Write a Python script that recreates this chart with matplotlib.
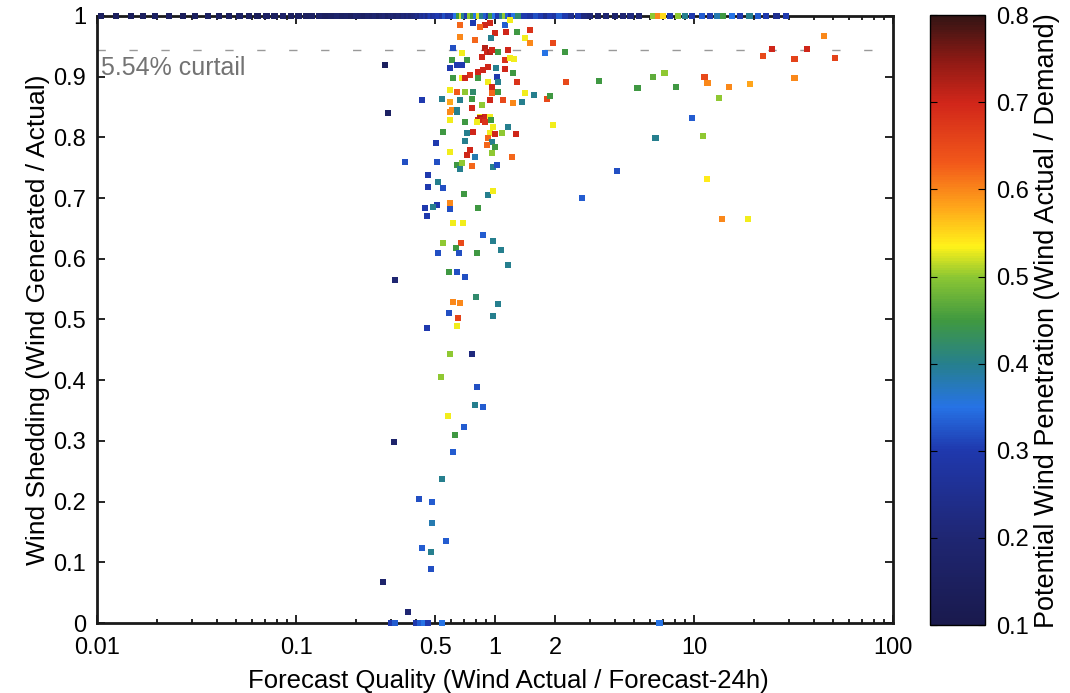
import numpy as np
import matplotlib
matplotlib.use("Agg")
import matplotlib.pyplot as plt
from matplotlib.colors import LinearSegmentedColormap

plt.rcParams['font.family'] = ['Liberation Sans', 'DejaVu Sans']

# ---------------- data ----------------
# points on the upper bound (no shedding, y = 1)
top_x = [0.0105, 0.0125, 0.0148, 0.017, 0.0195, 0.023, 0.027, 0.031, 0.036, 0.041,
         0.046, 0.052, 0.058, 0.064, 0.071, 0.078, 0.086, 0.094, 0.103, 0.112,
         0.12, 0.13, 0.14, 0.15, 0.16, 0.17, 0.18, 0.19, 0.2, 0.21,
         0.22, 0.23, 0.24, 0.25, 0.26, 0.27, 0.28, 0.29, 0.3, 0.31,
         0.32, 0.33, 0.34, 0.35, 0.36, 0.37, 0.38, 0.39, 0.40,
         0.41, 0.42, 0.43, 0.44, 0.45, 0.46, 0.47, 0.48, 0.49, 0.5, 0.52, 0.54, 0.56, 0.58, 0.6,
         0.62, 0.64, 0.66, 0.68, 0.7, 0.72, 0.75, 0.78, 0.8, 0.83, 0.86, 0.9, 0.93, 0.96,
         1.0, 1.04, 1.08, 1.12, 1.16, 1.2, 1.25, 1.3,
         1.4, 1.5, 1.6, 1.7, 1.8, 1.9, 2.0, 2.1, 2.25, 2.4, 2.6, 2.8,
         3.0, 3.3, 3.6, 4.0, 4.4, 4.8, 5.3,
         6.2, 6.6, 7.0, 7.6, 8.3, 9.0, 9.8, 11, 12, 13, 14, 15.5, 17, 19, 21, 23, 26, 29]
top_c = [0.15, 0.15, 0.14, 0.15, 0.16, 0.15, 0.14, 0.15, 0.16, 0.15,
         0.15, 0.16, 0.15, 0.14, 0.16, 0.15, 0.17, 0.15, 0.16, 0.15,
         0.16, 0.17, 0.15, 0.16, 0.18, 0.16, 0.17, 0.15, 0.18, 0.17,
         0.16, 0.18, 0.17, 0.19, 0.16, 0.18, 0.2, 0.17, 0.19, 0.2,
         0.18, 0.2, 0.19, 0.21, 0.2, 0.22, 0.2, 0.21, 0.22,
         0.24, 0.22, 0.26, 0.25, 0.28, 0.24, 0.27, 0.3, 0.26, 0.28, 0.3, 0.27, 0.32, 0.29, 0.3,
         0.3, 0.35, 0.45, 0.52, 0.4, 0.3, 0.5, 0.45, 0.35, 0.52, 0.4, 0.33, 0.3, 0.45,
         0.35, 0.3, 0.4, 0.5, 0.33, 0.3, 0.35, 0.42,
         0.3, 0.28, 0.32, 0.3, 0.25, 0.3, 0.28, 0.33, 0.3, 0.25, 0.3, 0.22,
         0.2, 0.18, 0.2, 0.18, 0.2, 0.22, 0.2,
         0.5, 0.6, 0.55, 0.3, 0.5, 0.4, 0.3, 0.33, 0.3, 0.38, 0.45, 0.35, 0.3, 0.4, 0.33, 0.3, 0.25, 0.3]

# points with shedding (y < 1)
pts_x = [
    # dense core around 0.5-2
    0.667, 0.775, 0.891, 0.841, 0.944, 1.123, 1.189, 1.29, 1.136, 1.0, 1.50, 1.415,
    0.667, 0.793, 0.955, 1.96, 0.615, 0.891, 0.912, 0.861, 0.944, 0.966, 1.035, 0.683,
    0.723, 1.162, 1.78, 2.25, 0.608, 0.644, 0.594, 0.683, 0.749, 0.822, 0.871, 0.922,
    1.012, 1.123, 1.189, 1.245, 1.123, 1.231, 0.615, 0.683, 0.707, 0.822, 0.922, 1.023,
    1.035, 0.966, 1.29, 2.27, 0.594, 0.644, 0.707, 0.775, 0.966, 1.035, 1.415, 1.57,
    1.82, 1.89, 0.43, 0.542, 0.594, 0.667, 0.766, 0.861, 0.944, 1.097, 1.231, 1.367,
    0.608, 0.644, 0.766, 0.841, 0.891, 0.944,
    # second red cluster near 0.83
    0.594, 0.644, 0.822, 0.841, 0.861, 0.891, 0.812, 0.955, 0.977, 1.162, 1.96, 0.594,
    0.707, 0.548, 0.723, 0.775, 0.944, 1.0, 1.084, 1.275, 0.505, 0.707, 0.922, 0.966,
    0.912, 1.0, 0.594, 0.749, 0.723, 0.793, 0.966, 1.217, 0.511, 0.644, 0.683, 0.667,
    0.766, 0.977, 1.023, 0.46, 0.517, 0.46, 0.548, 0.699, 0.922, 0.977, 0.594, 0.511,
    0.488, 0.445, 0.594, 0.822, 0.455, 0.353,
    # middle column
    0.615, 0.691, 0.871, 0.977, 0.548, 0.675, 0.637, 1.072, 0.517, 0.659, 0.812, 1.162,
    0.587, 0.644, 0.707, 0.803, 0.615, 0.667, 1.035, 0.587, 0.652, 0.977, 0.644, 0.455,
    0.314, 0.594, 0.766, 0.535, 0.812, 0.793, 0.871, 0.58, 0.699, 0.615, 0.29, 0.31,
    0.629, 0.542, 0.415, 0.482, 0.482, 0.567, 0.43, 0.477, 0.477, 0.274, 0.366, 0.28,
    # right-hand scattered points
    3.33, 5.2, 6.2, 7.1, 8.1, 11.3, 11.7, 13.3, 15.0, 19.1, 22.2, 24.7, 32.0, 32.0,
    37.0, 45.0, 51.0, 9.8, 6.4, 11.1, 4.1, 11.6, 2.73, 13.8, 18.7, 1.50,
    # bottom (total shedding)
    0.30, 0.315, 0.40, 0.42, 0.44, 0.46, 0.54, 6.7,
]
pts_y = [
    0.985, 0.988, 0.985, 0.982, 0.988, 0.985, 0.993, 0.974, 0.974, 0.972, 0.977, 0.964,
    0.965, 0.960, 0.964, 0.956, 0.947, 0.947, 0.941, 0.932, 0.941, 0.944, 0.941, 0.939,
    0.928, 0.944, 0.939, 0.941, 0.928, 0.919, 0.914, 0.919, 0.903, 0.908, 0.911, 0.916,
    0.914, 0.928, 0.931, 0.929, 0.913, 0.906, 0.898, 0.898, 0.898, 0.898, 0.891, 0.900,
    0.891, 0.883, 0.891, 0.891, 0.878, 0.875, 0.875, 0.875, 0.873, 0.875, 0.873, 0.870,
    0.863, 0.868, 0.862, 0.863, 0.858, 0.862, 0.863, 0.853, 0.862, 0.862, 0.857, 0.858,
    0.845, 0.845, 0.848, 0.834, 0.834, 0.834,
    0.842, 0.842, 0.829, 0.832, 0.829, 0.825, 0.825, 0.829, 0.817, 0.817, 0.820, 0.829,
    0.825, 0.809, 0.807, 0.809, 0.807, 0.806, 0.807, 0.806, 0.791, 0.794, 0.799, 0.792,
    0.787, 0.784, 0.776, 0.779, 0.771, 0.768, 0.774, 0.768, 0.759, 0.755, 0.758, 0.748,
    0.753, 0.751, 0.755, 0.738, 0.727, 0.718, 0.717, 0.707, 0.705, 0.712, 0.692, 0.689,
    0.685, 0.684, 0.682, 0.684, 0.671, 0.759,
    0.659, 0.659, 0.639, 0.629, 0.626, 0.626, 0.618, 0.614, 0.610, 0.610, 0.610, 0.590,
    0.578, 0.578, 0.570, 0.537, 0.529, 0.527, 0.526, 0.511, 0.502, 0.506, 0.489, 0.486,
    0.565, 0.443, 0.443, 0.405, 0.389, 0.359, 0.356, 0.341, 0.323, 0.282, 0.840, 0.298,
    0.310, 0.237, 0.204, 0.199, 0.165, 0.135, 0.124, 0.117, 0.089, 0.068, 0.018, 0.919,
    0.893, 0.881, 0.900, 0.906, 0.883, 0.900, 0.890, 0.865, 0.883, 0.888, 0.934, 0.946,
    0.929, 0.898, 0.946, 0.967, 0.931, 0.832, 0.799, 0.802, 0.745, 0.731, 0.700, 0.666,
    0.666, 0.956,
    0.0, 0.0, 0.0, 0.0, 0.0, 0.0, 0.0, 0.0,
]
pts_c = [
    0.62, 0.30, 0.70, 0.62, 0.70, 0.33, 0.53, 0.45, 0.70, 0.70, 0.68, 0.53,
    0.60, 0.62, 0.40, 0.65, 0.32, 0.72, 0.70, 0.70, 0.72, 0.70, 0.45, 0.53,
    0.45, 0.70, 0.35, 0.45, 0.45, 0.30, 0.30, 0.30, 0.68, 0.70, 0.70, 0.70,
    0.40, 0.68, 0.53, 0.53, 0.70, 0.45, 0.45, 0.53, 0.70, 0.45, 0.53, 0.30,
    0.40, 0.70, 0.68, 0.65, 0.53, 0.63, 0.50, 0.42, 0.62, 0.45, 0.53, 0.40,
    0.65, 0.45, 0.30, 0.40, 0.58, 0.40, 0.45, 0.50, 0.70, 0.65, 0.60, 0.40,
    0.60, 0.40, 0.70, 0.53, 0.70, 0.53,
    0.60, 0.40, 0.70, 0.72, 0.70, 0.68, 0.53, 0.45, 0.53, 0.40, 0.53, 0.53,
    0.45, 0.45, 0.40, 0.70, 0.53, 0.70, 0.50, 0.70, 0.30, 0.40, 0.62, 0.40,
    0.62, 0.45, 0.53, 0.70, 0.70, 0.38, 0.50, 0.62, 0.32, 0.45, 0.50, 0.40,
    0.62, 0.40, 0.32, 0.30, 0.40, 0.30, 0.32, 0.45, 0.40, 0.53, 0.60, 0.30,
    0.40, 0.30, 0.32, 0.45, 0.30, 0.32,
    0.53, 0.53, 0.33, 0.40, 0.50, 0.65, 0.45, 0.40, 0.32, 0.32, 0.45, 0.40,
    0.45, 0.32, 0.32, 0.42, 0.60, 0.60, 0.40, 0.32, 0.66, 0.40, 0.53, 0.30,
    0.20, 0.50, 0.22, 0.50, 0.32, 0.40, 0.33, 0.53, 0.33, 0.33, 0.16, 0.18,
    0.45, 0.40, 0.32, 0.33, 0.38, 0.33, 0.33, 0.40, 0.32, 0.18, 0.20, 0.15,
    0.45, 0.45, 0.47, 0.50, 0.45, 0.65, 0.60, 0.50, 0.60, 0.58, 0.65, 0.70,
    0.66, 0.60, 0.70, 0.60, 0.66, 0.33, 0.40, 0.50, 0.32, 0.54, 0.33, 0.60,
    0.53, 0.60,
    0.30, 0.33, 0.30, 0.33, 0.35, 0.30, 0.35, 0.35,
]

curtail_level = 1 - 0.0554
curtail_text = "5.54% curtail"
x_ticks = [0.01, 0.1, 0.5, 1, 2, 10, 100]
x_tick_labels = ["0.01", "0.1", "0.5", "1", "2", "10", "100"]
y_ticks = [0, 0.1, 0.2, 0.3, 0.4, 0.5, 0.6, 0.7, 0.8, 0.9, 1.0]
y_tick_labels = ["0", "0.1", "0.2", "0.3", "0.4", "0.5", "0.6", "0.7", "0.8", "0.9", "1"]
cb_ticks = [0.1, 0.2, 0.3, 0.4, 0.5, 0.6, 0.7, 0.8]

# ---------------- colormap (jet-like, dark ends) ----------------
anchors = [
    (0.10, (0.10, 0.10, 0.30)),
    (0.20, (0.12, 0.15, 0.45)),
    (0.30, (0.12, 0.22, 0.68)),
    (0.35, (0.15, 0.45, 0.90)),
    (0.40, (0.15, 0.50, 0.55)),
    (0.45, (0.25, 0.60, 0.25)),
    (0.50, (0.55, 0.78, 0.20)),
    (0.535, (1.00, 0.95, 0.10)),
    (0.58, (1.00, 0.65, 0.10)),
    (0.63, (0.95, 0.35, 0.10)),
    (0.70, (0.82, 0.15, 0.10)),
    (0.75, (0.55, 0.10, 0.08)),
    (0.80, (0.20, 0.08, 0.08)),
]
positions = [min(1.0, max(0.0, round((v - 0.1) / 0.7, 6))) for v, _ in anchors]
positions[0], positions[-1] = 0.0, 1.0
cmap = LinearSegmentedColormap.from_list(
    "jetdark", list(zip(positions, [c for _, c in anchors])))

# ---------------- figure ----------------
fig = plt.figure(figsize=(10.70, 6.93), dpi=100)
ax = fig.add_axes([0.0907, 0.101, 0.7439, 0.876])
cax = fig.add_axes([0.869, 0.098, 0.0514, 0.880])

all_x = list(top_x) + list(pts_x)
all_y = [1.0] * len(top_x) + list(pts_y)
all_c = list(top_c) + list(pts_c)

sc = ax.scatter(all_x, all_y, c=all_c, cmap=cmap, vmin=0.1, vmax=0.8,
                marker='s', s=20, linewidths=0, clip_on=False, zorder=3)

ax.axhline(curtail_level, color='0.6', lw=1.0, dashes=(6, 17), zorder=1)
ax.text(0.0105, curtail_level - 0.010, curtail_text, color='0.45',
        fontsize=18, ha='left', va='top')

ax.set_xscale('log')
ax.set_xlim(0.01, 100)
ax.set_ylim(0, 1)
ax.set_xticks(x_ticks)
ax.set_xticklabels(x_tick_labels)
ax.set_yticks(y_ticks)
ax.set_yticklabels(y_tick_labels)
ax.tick_params(axis='both', which='both', direction='in', top=True, right=True,
               labelsize=17, width=1.2)
ax.tick_params(axis='both', which='major', length=6)
ax.tick_params(axis='x', which='major', pad=10)
ax.tick_params(axis='y', which='major', pad=8)
ax.tick_params(axis='x', which='minor', length=3)
for sp in ax.spines.values():
    sp.set_linewidth(2.0)
    sp.set_color('0.1')

ax.set_xlabel("Forecast Quality (Wind Actual / Forecast-24h)", fontsize=18.5, labelpad=3)
ax.xaxis.set_label_coords(0.517, -0.075)
ax.set_ylabel("Wind Shedding (Wind Generated / Actual)", fontsize=19, labelpad=2)

cb = fig.colorbar(sc, cax=cax, ticks=cb_ticks)
cb.ax.tick_params(direction='in', length=5, labelsize=17, left=True, right=True, pad=8)
cb.outline.set_linewidth(1.0)
cb.set_label("Potential Wind Penetration (Wind Actual / Demand)", fontsize=19.5, labelpad=4)

fig.savefig("out.png", dpi=100)
